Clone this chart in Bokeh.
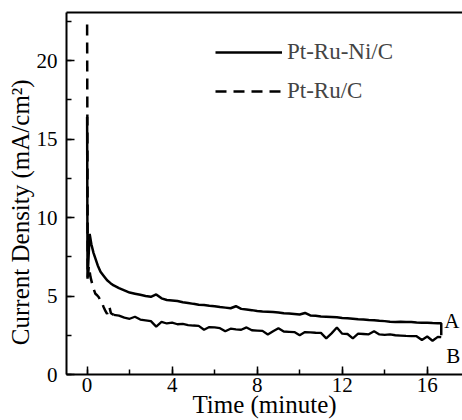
from bokeh.plotting import figure
from bokeh.models import (Range1d, LinearAxis, SingleIntervalTicker, FixedTicker,
                          Legend, LegendItem)
from bokeh.core.properties import value
from bokeh.embed import file_html
from bokeh.resources import INLINE

# ---- data ----
time_a = [0, 0.02, 0.12, 0.2, 0.3, 0.4, 0.5, 0.63, 0.8, 0.94, 1.1, 1.25, 1.5, 1.75, 2.0, 2.25,
          2.5, 2.75, 3.0, 3.25, 3.5, 3.75, 4.0, 4.25, 4.5, 4.75, 5.0, 5.25, 5.5, 5.75, 6.0,
          6.25, 6.5, 6.75, 7.0, 7.25, 7.5, 7.75, 8.0, 8.25, 8.5, 8.75, 9.0, 9.25, 9.5, 9.75,
          10.0, 10.25, 10.5, 10.75, 11.0, 11.25, 11.5, 11.75, 12.0, 12.25, 12.5, 12.75, 13.0,
          13.25, 13.5, 13.75, 14.0, 14.25, 14.5, 14.75, 15.0, 15.25, 15.5, 15.75, 16.0, 16.25,
          16.5, 16.66, 16.66]
ptruni = [16.4, 6.1, 8.96, 8.3, 7.75, 7.35, 6.95, 6.55, 6.25, 6.0, 5.82, 5.67, 5.5, 5.36, 5.22, 5.15,
          5.08, 5.0, 4.95, 5.1, 4.85, 4.75, 4.72, 4.68, 4.6, 4.56, 4.5, 4.45, 4.42, 4.38, 4.35,
          4.3, 4.26, 4.22, 4.35, 4.18, 4.14, 4.1, 4.05, 4.02, 4.0, 3.98, 3.95, 3.9, 3.88, 3.85,
          3.82, 3.92, 3.76, 3.74, 3.7, 3.68, 3.66, 3.64, 3.6, 3.58, 3.55, 3.52, 3.5,
          3.47, 3.45, 3.42, 3.4, 3.36, 3.35, 3.36, 3.34, 3.35, 3.32, 3.3, 3.3, 3.28,
          3.27, 3.27, 2.5]

time_b = [0, 0.03, 0.08, 0.16, 0.24, 0.32, 0.39, 0.47, 0.55, 0.63, 0.7, 0.78, 0.86, 0.94, 1.0,
          1.05, 1.12, 1.25, 1.5, 1.75, 2.0, 2.25, 2.5, 2.75, 3.0, 3.25, 3.5, 3.75, 4.0, 4.25,
          4.5, 4.75, 5.0, 5.25, 5.5, 5.75, 6.0, 6.25, 6.5, 6.75, 7.0, 7.25, 7.5, 7.75, 8.0,
          8.25, 8.5, 8.75, 9.0, 9.25, 9.5, 9.75, 10.0, 10.25, 10.5, 10.75, 11.0, 11.25, 11.5,
          11.75, 12.0, 12.25, 12.5, 12.75, 13.0, 13.25, 13.5, 13.75, 14.0, 14.25, 14.5, 14.75,
          15.0, 15.25, 15.5, 15.75, 16.0, 16.25, 16.5, 16.66]
ptru = [22.3, 6.2, 6.9, 6.2, 5.77, 5.4, 5.14, 5.05, 4.92, 4.7, 4.55, 4.29, 4.05, 3.86, 4.2,
        4.3, 3.9, 3.8, 3.75, 3.62, 3.55, 3.68, 3.5, 3.45, 3.4, 3.05, 3.35, 3.25, 3.3, 3.2,
        3.22, 3.15, 3.12, 3.1, 2.85, 3.02, 3.0, 2.95, 2.75, 2.92, 2.88, 2.85, 3.0, 2.82, 2.8,
        2.78, 2.55, 2.76, 2.95, 2.74, 2.72, 2.7, 2.5, 2.7, 2.68, 2.66, 2.65, 2.3, 2.62,
        3.0, 2.6, 2.58, 2.3, 2.6, 2.58, 2.56, 2.75, 2.55, 2.52, 2.55, 2.5, 2.48,
        2.46, 2.45, 2.44, 2.2, 2.42, 2.15, 2.4, 2.38]

series_labels = ["Pt-Ru-Ni/C", "Pt-Ru/C"]
end_labels = ["A", "B"]
x_ticks_interval = 4
y_ticks_interval = 5

FONT = "Liberation Serif"

p = figure(width=462, height=420, output_backend="svg", toolbar_location=None,
           x_range=Range1d(-0.97, 17.66), y_range=Range1d(0, 23.06),
           min_border_left=66, min_border_right=0, min_border_top=12, min_border_bottom=46)
p.outline_line_color = None
p.grid.visible = False
p.background_fill_color = "white"
p.border_fill_color = "white"

for ax in (p.xaxis[0], p.yaxis[0]):
    ax.axis_line_width = 2
    ax.axis_line_color = "black"
    ax.major_tick_in = 8
    ax.major_tick_out = 0
    ax.minor_tick_in = 5
    ax.minor_tick_out = 0
    ax.major_tick_line_width = 1.5
    ax.minor_tick_line_width = 1.5
    ax.major_label_text_font = FONT
    ax.major_label_text_font_size = "21px"
    ax.major_label_text_color = "black"
    ax.axis_label_text_font = FONT
    ax.axis_label_text_font_size = "25px"
    ax.axis_label_text_font_style = "normal"
    ax.axis_label_text_color = "black"

p.xaxis[0].ticker = SingleIntervalTicker(interval=x_ticks_interval, num_minor_ticks=2)
p.yaxis[0].ticker = SingleIntervalTicker(interval=y_ticks_interval, num_minor_ticks=2)
p.xaxis[0].axis_label = "Time (minute)"
p.yaxis[0].axis_label = "Current Density (mA/cm\u00b2)" + "\u00a0" * 6
p.xaxis[0].major_label_standoff = 3
p.xaxis[0].axis_label_standoff = -4
p.yaxis[0].major_label_standoff = 9
p.yaxis[0].axis_label_standoff = 0

top = LinearAxis(ticker=FixedTicker(ticks=[]), axis_line_width=2, axis_line_color="black",
                 major_tick_in=0, major_tick_out=0, minor_tick_in=0, minor_tick_out=0,
                 major_label_text_font_size="0px")
p.add_layout(top, "above")

rA = p.line(time_a, ptruni, line_color="black", line_width=2.5)
nh = 18
rB = p.line(time_b[:nh], ptru[:nh], line_color="black", line_width=2.5, line_dash="11 7")
p.line(time_b[nh - 1:], ptru[nh - 1:], line_color="black", line_width=2.3)

p.text(x=[time_a[-1]], y=[ptruni[-2]], text=[end_labels[0]], x_offset=3, y_offset=-2,
       text_baseline="alphabetic", text_font=value(FONT), text_font_size="21px", text_color="black")
p.text(x=[time_b[-1]], y=[ptru[-1]], text=[end_labels[1]], x_offset=5, y_offset=19,
       text_baseline="alphabetic", text_font=value(FONT), text_font_size="21px", text_color="black")

legend = Legend(items=[LegendItem(label=series_labels[0], renderers=[rA]),
                       LegendItem(label=series_labels[1], renderers=[rB])],
                location=(149, 270), glyph_width=67, glyph_height=24, label_standoff=5,
                spacing=13, padding=0, margin=0, border_line_color=None,
                background_fill_alpha=0, label_text_font=FONT, label_text_font_size="23px")
p.add_layout(legend)

open("out.html", "w").write(file_html(p, INLINE))
